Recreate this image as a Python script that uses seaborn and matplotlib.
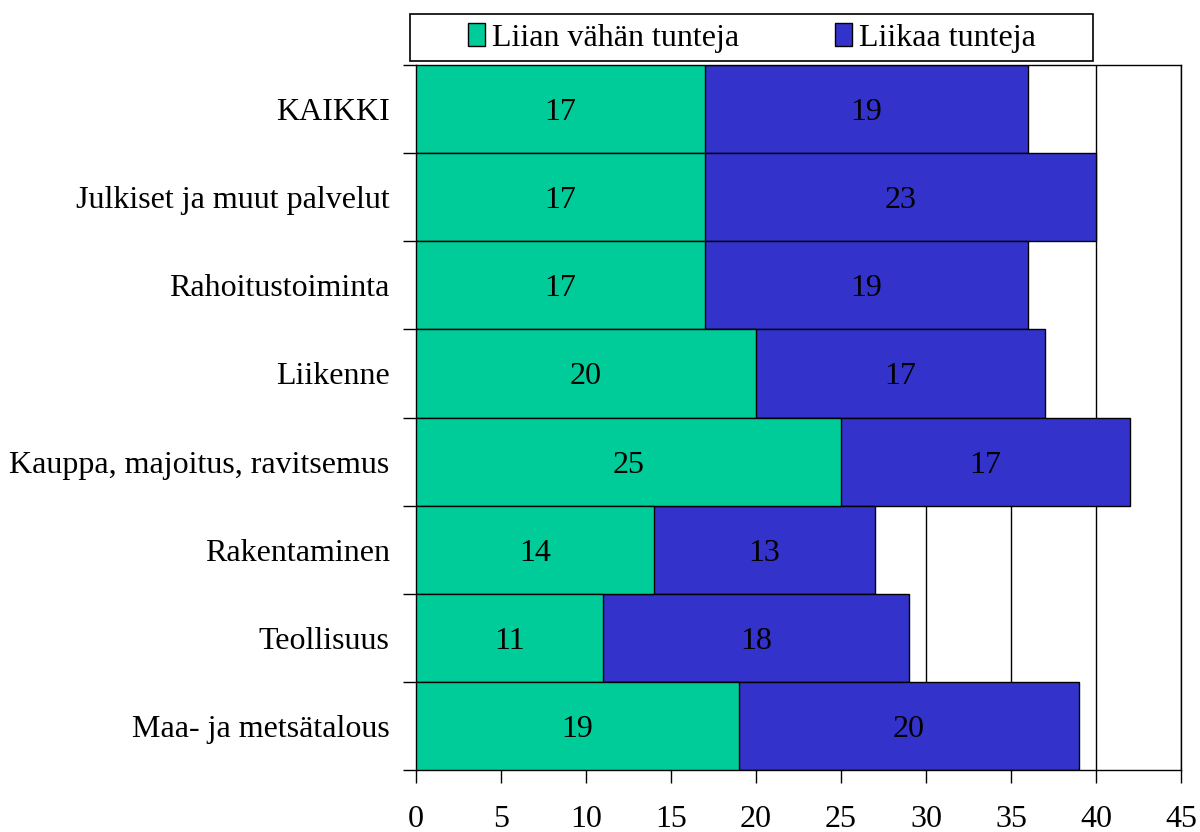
import pandas as pd
import matplotlib
matplotlib.use("Agg")
import matplotlib.pyplot as plt
import seaborn as sns
from matplotlib.patches import Patch, Rectangle
from matplotlib.ticker import MultipleLocator, FixedLocator

# ============================================================
# DATA
# ============================================================
kategoriat = [
    "KAIKKI",
    "Julkiset ja muut palvelut",
    "Rahoitustoiminta",
    "Liikenne",
    "Kauppa, majoitus, ravitsemus",
    "Rakentaminen",
    "Teollisuus",
    "Maa- ja metsätalous",
]
liian_vahan = [17, 17, 17, 20, 25, 14, 11, 19]
liikaa = [19, 23, 19, 17, 17, 13, 18, 20]
sarjat = ["Liian vähän tunteja", "Liikaa tunteja"]
x_ticks = list(range(0, 50, 5))

VIHREA = "#00CC99"
SININEN = "#3333CC"

df = pd.DataFrame({"Kategoria": kategoriat, "vahan": liian_vahan, "liikaa": liikaa})
df["yhteensa"] = df["vahan"] + df["liikaa"]

# ============================================================
# PLOT
# ============================================================
sns.set_style("white")
plt.rcParams["font.family"] = ["Liberation Serif", "DejaVu Serif"]
plt.rcParams["font.size"] = 23
plt.rcParams["text.color"] = "black"
plt.rcParams["xtick.color"] = "black"
plt.rcParams["ytick.color"] = "black"
plt.rcParams["xtick.labelcolor"] = "black"
plt.rcParams["ytick.labelcolor"] = "black"

fig = plt.figure(figsize=(12, 8.32), dpi=100)
ax = fig.add_axes([416 / 1200, 1 - 770 / 832, 765 / 1200, 705 / 832])

# pino: ensin kokonaispituus sinisella, sitten vihrea paalle
sns.barplot(data=df, y="Kategoria", x="yhteensa", orient="h", color=SININEN,
            saturation=1, width=1.0, edgecolor="black", linewidth=1, ax=ax, zorder=2)
sns.barplot(data=df, y="Kategoria", x="vahan", orient="h", color=VIHREA,
            saturation=1, width=1.0, edgecolor="black", linewidth=1, ax=ax, zorder=3)

for i, row in df.iterrows():
    ax.text(row["vahan"] / 2, i, str(row["vahan"]), ha="center",
            va="center_baseline", fontsize=23, color="black", zorder=5)
    ax.text(row["vahan"] + row["liikaa"] / 2, i, str(row["liikaa"]), ha="center",
            va="center_baseline", fontsize=23, color="black", zorder=5)

ax.set_xlim(0, 45)
ax.set_ylim(len(kategoriat) - 0.5, -0.5)
ax.xaxis.set_major_locator(FixedLocator(x_ticks))
ax.grid(axis="x", color="black", linewidth=1)
ax.grid(axis="y", visible=False)
ax.set_axisbelow(True)

ax.set_xlabel("")
ax.set_ylabel("")
ax.tick_params(axis="x", direction="out", length=9, width=1, color="black",
               pad=16, labelsize=23, bottom=True)
ax.tick_params(axis="y", which="major", length=0, pad=19, labelsize=23)
ax.yaxis.set_minor_locator(MultipleLocator(1, offset=0.5))
ax.tick_params(axis="y", which="minor", direction="out", length=9.5, width=1,
               color="black", left=True)

for s in ax.spines.values():
    s.set_visible(True)
    s.set_color("black")
    s.set_linewidth(1)

# selitteen kehys erikseen
fig.patches.append(Rectangle((410 / 1200, 1 - 61 / 832), 683 / 1200, 47 / 832,
                             transform=fig.transFigure, facecolor="white",
                             edgecolor="black", linewidth=1.2, zorder=0))

handles = [Patch(facecolor=VIHREA, edgecolor="black", label=sarjat[0]),
           Patch(facecolor=SININEN, edgecolor="black", label=sarjat[1])]
fig.legend(handles=handles, loc="center", ncol=2,
           bbox_to_anchor=(751.5 / 1200, 1 - 38 / 832),
           frameon=False, fontsize=23, handlelength=0.55, handleheight=0.75,
           handletextpad=0.2, columnspacing=3.0, borderpad=0)

plt.savefig("out.png", dpi=100)
